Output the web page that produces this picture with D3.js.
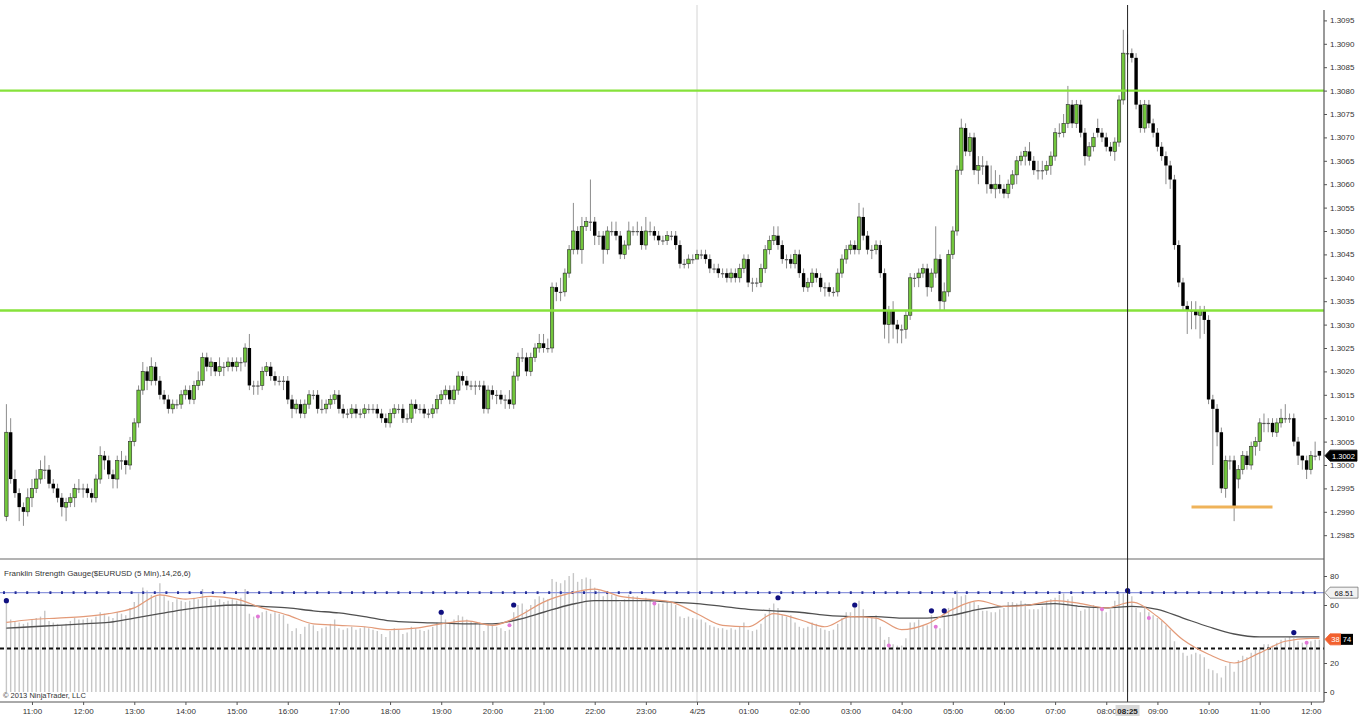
<!DOCTYPE html>
<html><head><meta charset="utf-8">
<script src="https://cdn.jsdelivr.net/npm/d3@7/dist/d3.min.js"></script>
<style>html,body{margin:0;background:#fff;}svg{display:block;font-family:"Liberation Sans",Arial,sans-serif;}</style>
</head><body>
<svg id="chart" width="1362" height="720"></svg>
<script>
// ---------- DATA ----------
const startTime = new Date(2013, 3, 24, 10, 30);   // first 5-min bar
const barMinutes = 5;
const PIP_BASE = 1.2900, PIP = 0.0001;            // candle values are pips above 1.2900
// [open, high, low, close]
const candles = [
 [89,113,88,107],[107,110,96,97],[97,99,93,94],[94,95,88,91],[91,92,87,90],[90,95,89,93],
 [93,97,91,95],[95,99,94,97],[97,101,96,99],[99,102,97,99],[99,100,95,96],[96,97,94,95],[95,96,92,93],[93,94,89,91],[91,93,88,92],[92,94,91,93],[93,96,91,95],[95,97,94,95],
 [95,96,93,95],[95,96,93,94],[94,95,92,93],[93,98,92,97],[97,104,96,102],[102,103,99,101],[101,102,97,98],[98,99,95,97],[97,102,95,101],[101,103,99,101],[101,102,98,100],[100,106,99,105],
 [105,110,104,109],[109,117,108,116],[116,122,115,120],[120,121,116,118],[118,123,117,121],[121,122,117,118],[118,119,114,115],[115,116,113,114],[114,115,111,112],[112,114,111,113],[113,114,112,113],[113,116,112,115],
 [115,117,114,116],[116,117,113,114],[114,118,113,117],[117,120,116,118],[118,124,117,123],[123,124,120,121],[121,123,119,122],[122,122,119,120],[120,123,119,121],[121,122,119,121],[121,123,120,122],[122,123,120,121],
 [121,123,120,122],[122,123,120,122],[122,126,121,125],[125,128,116,117],[117,118,115,117],[117,118,115,117],[117,121,116,120],[120,122,119,121],[121,122,118,119],[119,120,117,118],[118,119,117,118],[118,119,116,118],
 [118,119,113,114],[114,115,110,112],[112,114,111,113],[113,114,110,111],[111,114,110,113],[113,116,112,115],[115,116,114,115],[115,116,111,112],[112,114,111,112],[112,114,111,113],[113,115,112,114],[114,116,113,115],
 [115,116,111,112],[112,113,110,111],[111,112,110,111],[111,113,110,112],[112,113,110,111],[111,112,110,111],[111,113,110,112],[112,113,111,112],[112,113,111,112],[112,113,110,111],[111,112,109,110],[110,111,108,109],
 [109,112,108,111],[111,113,110,112],[112,113,111,112],[112,113,109,110],[110,111,109,110],[110,114,109,113],[113,114,111,112],[112,113,111,112],[112,113,110,111],[111,112,110,111],[111,113,110,112],[112,115,111,114],
 [114,116,113,115],[115,117,114,116],[116,117,113,114],[114,117,113,116],[116,120,115,119],[119,120,117,118],[118,119,116,117],[117,118,116,117],[117,118,115,117],[117,118,116,117],[117,118,111,112],[112,117,111,116],
 [116,117,114,115],[115,116,113,115],[115,116,113,114],[114,115,112,114],[114,116,112,113],[113,120,112,119],[119,124,118,123],[123,125,122,123],[123,124,119,120],[120,124,119,123],[123,126,122,125],[125,128,124,126],
 [126,128,124,125],[125,127,124,125],[125,139,124,138],[138,139,135,137],[137,140,135,137],[137,142,136,141],[141,147,140,146],[146,156,145,150],[150,151,145,146],[146,153,143,151],[151,153,150,152],[152,161,150,152],
 [152,153,147,149],[149,150,147,149],[149,150,143,146],[146,151,145,150],[150,152,149,150],[150,152,148,149],[149,150,144,145],[145,148,144,147],[147,152,146,150],[150,151,149,150],[150,152,149,150],[150,151,146,147],
 [147,153,146,150],[150,152,149,150],[150,151,148,149],[149,150,147,148],[148,149,147,148],[148,150,147,149],[149,150,148,149],[149,150,146,147],[147,148,142,143],[143,144,142,143],[143,145,142,144],[144,145,143,144],
 [144,146,144,145],[145,146,144,145],[145,146,143,144],[144,145,141,142],[142,143,141,142],[142,143,140,141],[141,142,140,141],[141,142,139,140],[140,142,139,141],[141,142,139,140],[140,143,139,142],[142,145,141,144],
 [144,145,138,139],[139,140,137,139],[139,140,138,139],[139,143,138,142],[142,147,141,146],[146,149,145,148],[148,151,147,149],[149,151,146,147],[147,148,143,144],[144,145,142,144],[144,145,142,143],[143,146,142,145],
 [145,146,140,141],[141,142,137,138],[138,140,137,139],[139,142,138,141],[141,142,139,140],[140,141,137,138],[138,139,136,138],[138,139,136,137],[137,138,136,137],[137,142,136,141],[141,145,140,144],[144,147,143,146],
 [146,148,145,147],[147,148,145,146],[146,156,145,153],[153,155,148,149],[149,150,145,146],[146,147,144,146],[146,148,145,147],[147,148,140,141],[141,142,127,130],[130,134,126,133],[133,135,127,130],[130,131,126,129],
 [129,130,126,129],[129,133,127,132],[132,141,131,140],[140,141,138,140],[140,142,138,141],[141,143,140,142],[142,143,136,138],[138,142,137,141],[141,151,140,144],[144,145,133,135],[135,139,133,137],[137,146,136,145],
 [145,151,144,150],[150,164,149,163],[163,174,162,172],[172,173,166,167],[167,171,166,170],[170,171,162,163],[163,166,160,164],[164,166,162,164],[164,165,158,160],[160,164,158,159],[159,163,157,160],[160,162,158,159],
 [159,160,157,158],[158,161,157,160],[160,163,159,162],[162,166,160,165],[165,167,164,166],[166,168,164,167],[167,169,164,165],[165,166,162,163],[163,165,161,163],[163,165,161,163],[163,165,162,164],[164,167,162,166],
 [166,172,165,171],[171,173,170,171],[171,175,170,173],[173,181,172,177],[177,178,172,173],[173,178,172,177],[177,178,170,171],[171,172,164,166],[166,169,165,168],[168,171,167,170],[172,174,170,171],[171,172,169,170],
 [170,171,167,168],[168,169,166,167],[167,170,165,169],[169,179,168,178],[178,193,177,188],[188,192,186,188],[188,189,186,187],[187,188,176,177],[177,178,171,172],[172,178,171,177],[177,178,172,173],[173,174,170,171],
 [171,172,167,168],[168,169,165,166],[166,167,160,164],[164,165,159,161],[161,162,146,147],[147,148,138,139],[139,140,133,134],[134,135,128,133],[133,135,129,133],[133,135,129,132],[132,134,127,133],[133,134,128,131],
 [131,132,113,114],[114,115,100,112],[112,113,104,107],[107,108,94,95],[95,102,93,101],[101,102,99,101],[101,102,88,91],[97,100,95,99],[99,103,98,102],[102,103,99,100],[100,105,99,104],[104,106,102,105],
 [105,110,103,109],[109,111,107,109],[109,110,107,109],[109,110,106,107],[107,110,106,109],[109,112,108,110],[110,113,109,110],[110,111,109,110],[110,111,104,105],[105,106,100,102],[102,102,99,101],[101,102,97,99],
 [99,103,98,102],[102,105,101,102],[103,103,101,102]
];
// Franklin Strength Gauge histogram, one value per bar
const gaugeHist = [
 63,50,49,48,47,48, 50,51,52,56,49,48, 47,46,47,49,51,50, 50,51,50,52,55,54, 52,51,55,54,53,58,
 62,68,72,70,67,66, 75,66,63,62,64,63, 62,63,65,64,71,65, 64,63,64,62,63,64, 63,65,71,54,52,53,
 55,56,54,55,54,53, 47,42,44,40,45,47, 46,42,44,45,47,50, 44,43,44,45,43,44, 45,44,43,42,40,38,
 42,44,43,40,41,45, 44,43,42,43,45,48, 54,50,47,50,53,52, 50,49,48,48,42,47, 46,45,44,42,43,55,
 60,61,57,60,64,66, 65,64,78,76,75,77, 80,82,76,78,79,78, 72,70,66,68,67,66, 62,64,67,66,66,63,
 65,64,62,61,61,62, 62,60,52,51,52,51, 50,50,48,46,45,44, 44,43,44,43,45,48, 43,42,43,47,54,58,
 61,58,53,52,53,48, 45,44,45,48,47,44, 43,42,43,47,51,55, 55,60,63,57,52,52, 53,45,36,38,33,32,
 32,37,48,48,50,46, 46,53,44,44,53,58, 65,70,66,67,62,62, 60,56,56,55,55,57, 58,62,62,61,63,61,
 57,57,57,59,63,64, 65,67,68,64,66,60, 56,57,58,60,58,56, 55,57,63,68,68,67, 66,58,55,58,55,53,
 51,49,46,43,35,30, 27,25,26,27,26,24, 16,15,13,10,18,20, 14,22,25,24,27,29, 31,33,33,32,34,36,
 37,38,37,35,34,33, 35,36,36
];
// smoothed gauge lines, sampled every 6 bars (plus the last bar)
const lineIdx = [0,6,12,18,24,30,36,42,48,54,60,66,72,78,84,90,96,102,108,114,120,126,132,138,144,150,156,162,168,174,180,186,192,198,204,210,216,222,228,234,240,246,252,258,264,270,276,282,288,294,300,306,308];
const gaugeFast = [48,50,51,52,54,58,67,64,66,64,58,53,47,46,45,43,44,47,49,46,52,62,68,71,66,64,62,54,46,45,54,50,45,52,51,43,47,57,63,59,60,63,61,58,62,52,36,26,20,27,35,37,37];
const gaugeSlow = [44,45,46,47,48,51,54,57,59,60,59,58,56,54.5,52,49,48,47.5,47,47,50,55,60,63,63,63,62,61,59,57,56,55,53,52,52,51,51,53,57,59,60,61,59,58,59,57,51,45,40,38,38,38,38];
const blueDots = [[0,63],[102,55],[119,60],[181,65],[199,60],[217,56],[220,56],[263,70],[302,41]]; // [bar, value]
const pinkDots = [[59,52],[118,46],[152,61],[207,32],[218,45],[257,57],[268,51],[305,34]];
const priceTicks = [1.2985,1.2990,1.2995,1.3000,1.3005,1.3010,1.3015,1.3020,1.3025,1.3030,1.3035,1.3040,1.3045,1.3050,1.3055,1.3060,1.3065,1.3070,1.3075,1.3080,1.3085,1.3090,1.3095];
const gaugeTicks = [0,20,60,80];   // 40 is hidden behind the value tags
const levelLines = [1.3080, 1.3033];
const supportLevel = {price: 1.29910, fromBar: 278, toBar: 297};
const lastPrice = 1.3002;
const gaugeUpper = 68.51, gaugeLower = 30;
const crossBar = 263;   // 08:25
const title = "Franklin Strength Gauge($EURUSD (5 Min),14,26,6)";
const copyright = "\u00a9 2013 NinjaTrader, LLC";

// ---------- CHART ----------
const svg = d3.select("#chart");
const plotR = 1324, mainTop = 5, mainBot = 559, axisY = 702;
const barTime = i => d3.timeMinute.offset(startTime, barMinutes * i);
const x = d3.scaleTime().domain([startTime, barTime(candles.length - 1)]).range([6.4, 1319.4]);
const y = d3.scaleLinear().domain([1.2985, 1.3095]).range([535.2, 20.4]);
const g = d3.scaleLinear().domain([0, 80]).range([692, 576]);
const P = v => PIP_BASE + v * PIP;
const bx = i => x(barTime(i));

const defs = svg.append("defs");
defs.append("clipPath").attr("id","mainClip").append("rect").attr("x",0).attr("y",mainTop).attr("width",plotR).attr("height",mainBot-mainTop);
defs.append("clipPath").attr("id","gClip").append("rect").attr("x",0).attr("y",mainBot+2).attr("width",plotR).attr("height",axisY-mainBot-2);

// midnight separator
const midnight = new Date(2013,3,25,0,0);
svg.append("line").attr("x1",x(midnight)).attr("x2",x(midnight)).attr("y1",mainTop).attr("y2",axisY)
  .attr("stroke","#d4d4d4").attr("stroke-width",1);

// ---- main panel ----
const main = svg.append("g").attr("clip-path","url(#mainClip)");
main.selectAll("line.wick").data(candles).join("line").attr("class","wick")
  .attr("x1",(d,i)=>bx(i)).attr("x2",(d,i)=>bx(i))
  .attr("y1",d=>y(P(d[1]))).attr("y2",d=>y(P(d[2])))
  .attr("stroke","#8c8c8c").attr("stroke-width",1);
main.selectAll("rect.body").data(candles).join("rect").attr("class","body")
  .attr("x",(d,i)=>bx(i)-1.7).attr("width",3.4)
  .attr("y",d=>y(P(Math.max(d[0],d[3]))))
  .attr("height",d=>Math.max(1.2, Math.abs(y(P(d[0]))-y(P(d[3])))))
  .attr("fill",d=>d[3]>d[0] ? "#72c63c" : (d[3]<d[0] ? "#000" : "#555"))
  .attr("stroke",d=>d[3]>d[0] ? "#2a2a2a" : "none").attr("stroke-width",0.6);

main.selectAll("line.level").data(levelLines).join("line").attr("class","level")
  .attr("x1",0).attr("x2",plotR).attr("y1",d=>y(d)).attr("y2",d=>y(d))
  .attr("stroke","#86e23a").attr("stroke-width",2.4);
main.append("line")
  .attr("x1",bx(supportLevel.fromBar)).attr("x2",bx(supportLevel.toBar))
  .attr("y1",y(supportLevel.price)).attr("y2",y(supportLevel.price))
  .attr("stroke","#efb35a").attr("stroke-width",3);

// panel separator
svg.append("line").attr("x1",0).attr("x2",plotR).attr("y1",mainBot).attr("y2",mainBot).attr("stroke","#9a9a9a").attr("stroke-width",1.5);

// ---- gauge panel ----
const gp = svg.append("g").attr("clip-path","url(#gClip)");
gp.selectAll("line.hist").data(gaugeHist).join("line").attr("class","hist")
  .attr("x1",(d,i)=>bx(i)).attr("x2",(d,i)=>bx(i))
  .attr("y1",g(0)).attr("y2",d=>g(d))
  .attr("stroke","#c6c6c6").attr("stroke-width",1.4);
gp.append("line").attr("x1",0).attr("x2",plotR).attr("y1",g(gaugeUpper)).attr("y2",g(gaugeUpper))
  .attr("stroke","#8e97dd").attr("stroke-width",1.2);
gp.append("line").attr("x1",3).attr("x2",plotR).attr("y1",g(gaugeUpper)).attr("y2",g(gaugeUpper))
  .attr("stroke","#26309a").attr("stroke-width",2.6).attr("stroke-dasharray","2,9.6");
gp.append("line").attr("x1",0).attr("x2",plotR).attr("y1",g(gaugeLower)).attr("y2",g(gaugeLower))
  .attr("stroke","#111").attr("stroke-width",1.8).attr("stroke-dasharray","4,3");
const lineGen = vals => d3.line().x((d,k)=>bx(lineIdx[k])).y(d=>g(d)).curve(d3.curveMonotoneX)(vals);
gp.append("path").attr("d",lineGen(gaugeSlow)).attr("fill","none").attr("stroke","#505050").attr("stroke-width",1.3);
gp.append("path").attr("d",lineGen(gaugeFast)).attr("fill","none").attr("stroke","#e39a78").attr("stroke-width",1.2);
gp.selectAll("circle.blue").data(blueDots).join("circle").attr("class","blue")
  .attr("cx",d=>bx(d[0])).attr("cy",d=>g(d[1])).attr("r",2.6).attr("fill","#101080");
gp.selectAll("circle.pink").data(pinkDots).join("circle").attr("class","pink")
  .attr("cx",d=>bx(d[0])).attr("cy",d=>g(d[1])).attr("r",2).attr("fill","#e277d8");

svg.append("text").attr("x",4).attr("y",576).attr("font-size",8).attr("fill","#333").text(title);
svg.append("text").attr("x",3).attr("y",698).attr("font-size",7.5).attr("fill","#333").text(copyright);

// crosshair
svg.append("line").attr("x1",bx(crossBar)).attr("x2",bx(crossBar)).attr("y1",mainTop).attr("y2",axisY)
  .attr("stroke","#222").attr("stroke-width",1);

// ---- axes ----
const fmtTime = d3.timeFormat("%H:%M");
const xAxis = d3.axisBottom(x).ticks(d3.timeHour.every(1))
  .tickFormat(d => (d.getHours()===0 ? (d.getMonth()+1)+"/"+d.getDate() : fmtTime(d))).tickSize(3).tickPadding(3);
const xa = svg.append("g").attr("transform",`translate(0,${axisY})`).call(xAxis);
xa.select(".domain").attr("d",`M0,0H${plotR}`).attr("stroke","#555");
xa.selectAll("text").attr("font-size",8).attr("fill","#333");
xa.selectAll("line").attr("stroke","#555");

const yAxis = d3.axisRight(y).tickValues(priceTicks).tickFormat(d3.format(".4f")).tickSize(3).tickPadding(3);
const ya = svg.append("g").attr("transform",`translate(${plotR},0)`).call(yAxis);
ya.select(".domain").remove();
ya.selectAll("text").attr("font-size",8).attr("fill","#333");
ya.selectAll("line").attr("stroke","#555");

const gAxis = d3.axisRight(g).tickValues(gaugeTicks).tickSize(3).tickPadding(3);
const ga = svg.append("g").attr("transform",`translate(${plotR},0)`).call(gAxis);
ga.select(".domain").remove();
ga.selectAll("text").attr("font-size",8).attr("fill","#333");
ga.selectAll("line").attr("stroke","#555");

svg.append("line").attr("x1",plotR).attr("x2",plotR).attr("y1",10).attr("y2",axisY).attr("stroke","#555").attr("stroke-width",1.2);

// ---- value tags ----
function tag(xp, yp, w, fill, stroke, txt, txtColor) {
  const h = 11, a = 5;
  svg.append("path").attr("d",`M${xp},${yp} L${xp+a},${yp-h/2} H${xp+a+w} V${yp+h/2} H${xp+a} Z`)
    .attr("fill",fill).attr("stroke",stroke).attr("stroke-width",0.8);
  svg.append("text").attr("x",xp+a+w/2).attr("y",yp+3).attr("text-anchor","middle")
    .attr("font-size",7.5).attr("fill",txtColor).text(txt);
}
tag(plotR+1, y(lastPrice), 27, "#000", "#000", d3.format(".4f")(lastPrice), "#fff");
tag(plotR+1, g(gaugeUpper), 28, "#f2f2f2", "#777", gaugeUpper.toFixed(2), "#111");
const tagY = g(gaugeFast[gaugeFast.length-1]) + 1;
tag(plotR+1, tagY, 11, "#f2612e", "#f2612e", "38", "#fff");
svg.append("rect").attr("x",plotR+17).attr("y",tagY-5.5).attr("width",12).attr("height",11).attr("fill","#000");
svg.append("text").attr("x",plotR+23).attr("y",tagY+3).attr("text-anchor","middle")
  .attr("font-size",7.5).attr("fill","#fff").text("74");

// crosshair time label
const cx = bx(crossBar);
svg.append("rect").attr("x",cx-12).attr("y",axisY+3).attr("width",24).attr("height",11).attr("fill","#d8d8d8");
svg.append("text").attr("x",cx).attr("y",axisY+12).attr("text-anchor","middle").attr("font-size",8)
  .attr("font-weight","bold").attr("fill","#222").text(fmtTime(barTime(crossBar)));
</script>
</body></html>
